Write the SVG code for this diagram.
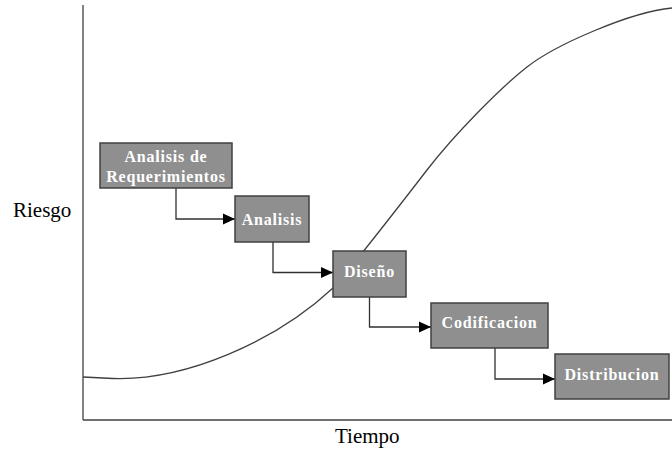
<svg xmlns="http://www.w3.org/2000/svg" width="672" height="452" viewBox="0 0 672 452">
<style>
.axis{stroke:#404040;stroke-width:1.3;fill:none}
.curve{stroke:#404040;stroke-width:1.3;fill:none}
.box{fill:#8f8f8f;stroke:#404040;stroke-width:1.5}
.lbl{font-family:"Liberation Serif","Times New Roman",serif;font-weight:bold;font-size:16px;letter-spacing:0.8px;fill:#ffffff;text-anchor:middle}
.ax{font-family:"Liberation Serif","Times New Roman",serif;font-size:21px;fill:#000}
.conn{stroke:#303030;stroke-width:1.3;fill:none}
</style>
<defs>
<marker id="arr" markerWidth="12" markerHeight="12" refX="12" refY="6" orient="auto" markerUnits="userSpaceOnUse">
<path d="M0,0.5 L12,6 L0,11.5 Z" fill="#000"/>
</marker>
</defs>
<rect width="672" height="452" fill="#fff"/>
<g id="axes">
<line class="axis" x1="83" y1="5" x2="83" y2="420"/>
<line class="axis" x1="83" y1="420" x2="672" y2="420"/>
<text class="ax" x="13" y="217">Riesgo</text>
<text class="ax" x="335" y="443">Tiempo</text>
</g>
<g id="curve">
<path class="curve" d="M83,377 L113,378.5 C185,381 275,342 333,288 C350,269 400,205 427,170 C454,135 500,88 527,67 C555,45 630,12 672,8"/>
</g>
<g id="connectors">
<path class="conn" d="M176,188 V219 H235" marker-end="url(#arr)"/>
<path class="conn" d="M273,242 V272.5 H333" marker-end="url(#arr)"/>
<path class="conn" d="M369.5,297 V327 H431" marker-end="url(#arr)"/>
<path class="conn" d="M495,348 V379 H555" marker-end="url(#arr)"/>
</g>
<g id="n1">
<rect class="box" x="100" y="143" width="132" height="45"/>
<text class="lbl" x="166" y="162">Analisis de</text>
<text class="lbl" x="166" y="182">Requerimientos</text>
</g>
<g id="n2">
<rect class="box" x="235" y="196" width="74" height="46"/>
<text class="lbl" x="272" y="225">Analisis</text>
</g>
<g id="n3">
<rect class="box" x="333" y="251" width="73" height="46"/>
<text class="lbl" x="369.5" y="277">Diseño</text>
</g>
<g id="n4">
<rect class="box" x="431" y="303" width="117" height="45"/>
<text class="lbl" x="489.5" y="327.5">Codificacion</text>
</g>
<g id="n5">
<rect class="box" x="555" y="354" width="114" height="45"/>
<text class="lbl" x="612" y="380">Distribucion</text>
</g>
</svg>
